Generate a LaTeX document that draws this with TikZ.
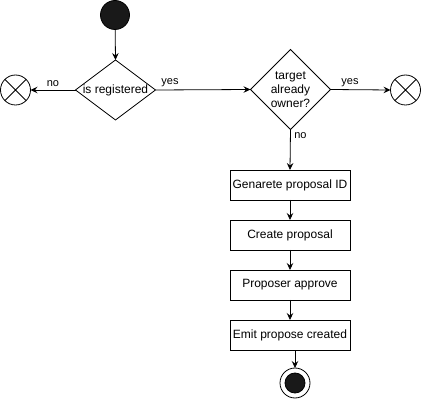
\documentclass[tikz,border=0pt]{standalone}
\usepackage{fontspec}
\setmainfont{Liberation Sans}
\usetikzlibrary{shapes.geometric,arrows.meta}
\begin{document}
\begin{tikzpicture}[x=1pt,y=-1pt,
  every node/.style={outer sep=0pt},
  line width=0.8pt,
  arr/.style={-{Stealth[length=7pt,width=6.5pt,inset=2.5pt]}},
  dia/.style={diamond,draw,inner sep=0pt,minimum width=80pt},
  act/.style={rectangle,draw,minimum width=120pt,minimum height=30pt,inner sep=0pt,font=\fontsize{12}{14}\selectfont},
  txt/.style={font=\fontsize{12}{14}\selectfont,align=center,inner sep=0pt},
  lbl/.style={font=\fontsize{11}{13}\selectfont,inner sep=0pt},
  xend/.style={circle,draw,minimum size=30pt,inner sep=0pt},
]
\useasboundingbox (0,0) rectangle (421,401);
% start
\node[circle,draw,fill=black!90,minimum size=29pt,inner sep=0pt] (start) at (115,15) {};
% decision 1
\node[dia,minimum height=60pt] (d1) at (115.5,90) {};
\node[txt] (d1t) at (d1) {is registered};
% left cross
\node[xend] (xl) at (15.5,90) {};
\draw (xl.north east) -- (xl.south west) (xl.north west) -- (xl.south east);
% decision 2
\node[dia,minimum height=80pt] (d2) at (290.5,89.5) {};
\node[txt] (d2t) at (290.5,89.5) {target\\already\\owner?};
% right cross
\node[xend] (xr) at (405.5,90) {};
\draw (xr.north east) -- (xr.south west) (xr.north west) -- (xr.south east);
% actions
\node[act] (a1) at (290,185) {Genarete proposal ID};
\node[act] (a2) at (290,235) {Create proposal};
\node[act] (a3) at (290,285) {Proposer approve};
\node[act] (a4) at (290,335) {Emit propose created};
% end
\node[circle,draw,minimum size=30pt,inner sep=0pt] (end) at (295,383) {};
\node[circle,fill=black!90,draw,minimum size=20pt,inner sep=0pt] (endin) at (end) {};
% connectors
\draw[arr] (start) -- (d1.north);
\draw[arr] (d1.west) -- (xl.east) node[lbl,pos=0.5,above=3pt] {no};
\draw[arr] (d1.east) -- (d2.west);
\node[lbl] (y1) at (170,83) {yes};
\draw[arr] (d2.east) -- (xr.west);
\node[lbl] (y2) at (350,83) {yes};
\draw[arr] (d2.south) -- (a1.north);
\node[lbl] (n2) at (300.5,136) {no};
\draw[arr] (a1) -- (a2);
\draw[arr] (a2) -- (a3);
\draw[arr] (a3) -- (a4);
\draw[arr] (a4.south -| end.north) -- (end.north);
\end{tikzpicture}
\end{document}
